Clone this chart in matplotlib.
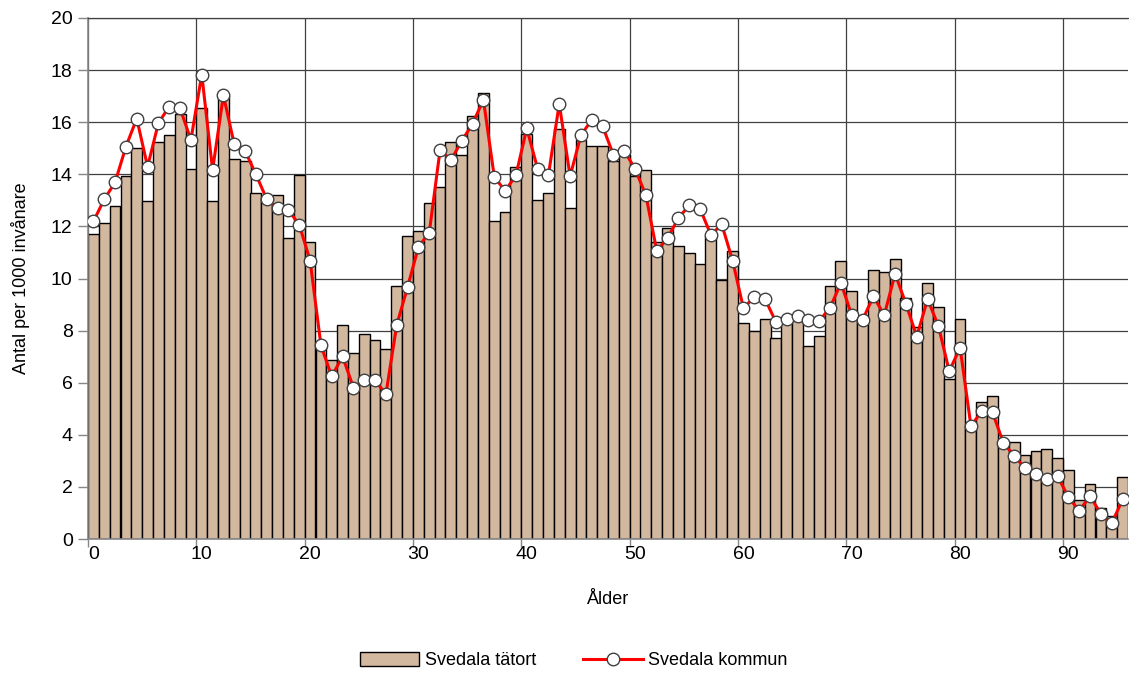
import matplotlib
matplotlib.use("Agg")
import matplotlib.pyplot as plt
import numpy as np

plt.rcParams['font.family'] = ['Liberation Sans', 'DejaVu Sans']

# Age 0..95
ages = list(range(96))

tatort = [11.71, 12.13, 12.78, 13.95, 15.01, 12.96, 15.24, 15.49, 16.32, 14.19,
          16.56, 12.96, 17.00, 14.59, 14.51, 13.28, 13.10, 13.22, 11.55, 13.96,
          11.42, 7.45, 6.87, 8.20, 7.15, 7.87, 7.62, 7.29, 9.70, 11.64,
          11.81, 12.88, 13.51, 15.24, 14.74, 16.24, 17.14, 12.21, 12.55, 14.27,
          15.55, 13.03, 13.28, 15.74, 12.71, 15.32, 15.08, 15.08, 14.51, 14.75,
          13.95, 14.18, 11.40, 11.95, 11.23, 10.97, 10.56, 11.64, 9.94, 11.06,
          8.29, 7.97, 8.45, 7.71, 8.32, 8.42, 7.39, 7.80, 9.70, 10.67,
          9.51, 8.38, 10.33, 10.26, 10.73, 9.26, 8.12, 9.83, 8.92, 6.13,
          8.44, 4.35, 5.25, 5.50, 3.72, 3.71, 3.21, 3.39, 3.45, 3.12,
          2.64, 1.51, 2.13, 1.18, 0.90, 2.39]

kommun = [12.19, 13.04, 13.69, 15.06, 16.14, 14.29, 15.97, 16.60, 16.53, 15.32,
          17.83, 14.17, 17.03, 15.15, 14.90, 14.00, 13.04, 12.69, 12.63, 12.06,
          10.69, 7.44, 6.24, 7.01, 5.81, 6.11, 6.09, 5.56, 8.22, 9.67,
          11.21, 11.76, 14.94, 14.54, 15.28, 15.94, 16.86, 13.91, 13.36, 13.96,
          15.76, 14.22, 13.97, 16.71, 13.92, 15.50, 16.09, 15.85, 14.74, 14.90,
          14.21, 13.19, 11.06, 11.55, 12.32, 12.81, 12.68, 11.67, 12.08, 10.69,
          8.86, 9.29, 9.21, 8.33, 8.44, 8.55, 8.41, 8.37, 8.88, 9.83,
          8.59, 8.41, 9.32, 8.59, 10.18, 9.03, 7.77, 9.21, 8.17, 6.44,
          7.35, 4.34, 4.90, 4.86, 3.68, 3.20, 2.71, 2.50, 2.30, 2.42,
          1.60, 1.09, 1.65, 0.96, 0.60, 1.52]

x_labels = ['0', '10', '20', '30', '40', '50', '60', '70', '80', '90']

fig = plt.figure(figsize=(11.29, 6.73), dpi=100)
ax = fig.add_axes([88 / 1129, 1 - 539 / 673, 1040 / 1129, 521 / 673])

x = np.array(ages)
bars = ax.bar(x, tatort, width=1.0, align='edge', color='#D3B8A0', edgecolor='black',
              linewidth=1.0, zorder=2, label='Svedala tätort')
line, = ax.plot(x + 0.5, kommun, color='#FF0000', linewidth=2.2, marker='o', markersize=9,
                markerfacecolor='white', markeredgecolor='#404040', markeredgewidth=1.0,
                zorder=3, label='Svedala kommun')

ax.set_xlim(0, 96)
ax.set_ylim(0, 20)
ax.set_yticks(np.arange(0, 21, 2))
ax.set_yticklabels([str(v) for v in range(0, 21, 2)])

major = np.arange(0, 100, 10)
ax.set_xticks(major)
ax.set_xticklabels([])
ax.set_xticks(major + 0.5, minor=True)
ax.set_xticklabels(x_labels, minor=True)
ax.tick_params(axis='x', which='major', length=6, color='#868686', width=1, direction='out')
ax.tick_params(axis='x', which='minor', length=0, pad=5, labelsize=14)
ax.tick_params(axis='y', length=7, color='#868686', width=1, labelsize=14, pad=4)

ax.grid(True, which='major', color='#404040', linewidth=0.9, zorder=0)
ax.set_axisbelow(True)
ax.spines['right'].set_visible(False)
ax.spines['top'].set_color('#404040')
ax.spines['top'].set_linewidth(0.9)
ax.spines['left'].set_color('#868686')
ax.spines['bottom'].set_color('#868686')
ax.spines['left'].set_linewidth(1.2)
ax.spines['bottom'].set_linewidth(1.2)

ax.set_xlabel('Ålder', fontsize=13, labelpad=20)
ax.set_ylabel('Antal per 1000 invånare', fontsize=13, labelpad=15)

fig.legend(handles=[bars, line], loc='center', bbox_to_anchor=(0.508, 0.018), ncol=2,
           frameon=False, fontsize=13, handlelength=3.3, columnspacing=2.6,
           handleheight=0.8, handletextpad=0.3)

fig.savefig('out.png', dpi=100)
